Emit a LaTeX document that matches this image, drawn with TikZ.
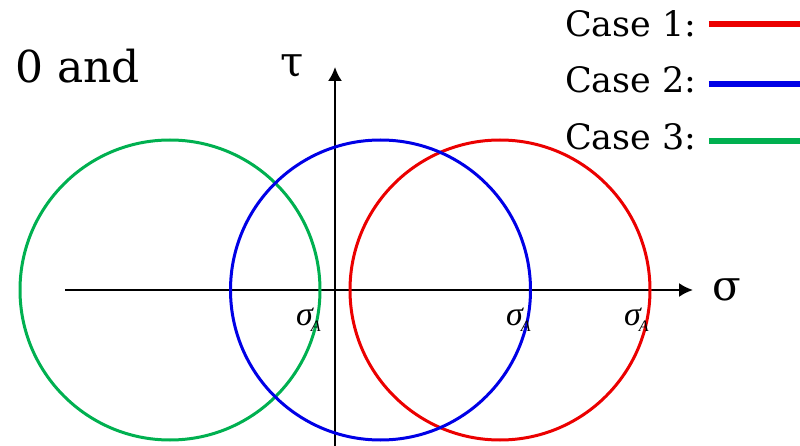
\documentclass[tikz,border=0pt]{standalone}
\usepackage{fontspec}
\setmainfont{DejaVu Serif}
\newfontfamily\timesf{Liberation Serif}
\usetikzlibrary{arrows.meta}
\definecolor{cred}{RGB}{235,0,0}
\definecolor{cblue}{RGB}{0,0,230}
\definecolor{cgreen}{RGB}{0,176,80}
\newcommand{\mysigA}{{\timesf\itshape\fontsize{34}{38}\selectfont σ\kern-2pt\raisebox{-6pt}{\fontsize{16}{18}\selectfont A}}}
\tikzset{
  axis/.style={line width=2pt, -{Latex[length=14pt,width=14pt]}},
  mohr/.style={line width=3pt},
  legline/.style={line width=6pt},
  lbl/.style={inner sep=0pt, anchor=base west},
  casetxt/.style={lbl, font=\fontsize{35}{40}\selectfont},
  sigA/.style={lbl},
}
\begin{document}
\begin{tikzpicture}[x=1pt,y=-1pt]
\useasboundingbox (0,0) rectangle (800,446);
% axes
\coordinate (hs) at (65,290);
\coordinate (he) at (693,290);
\coordinate (vs) at (335,446);
\coordinate (ve) at (335,67);
\draw[axis] (hs) -- (he);
\draw[axis] (vs) -- (ve);
% circles
\coordinate (cg) at (170,290);
\coordinate (cr) at (500,290);
\coordinate (cb) at (380.5,290);
\draw[mohr, cgreen] (cg) circle (150);
\draw[mohr, cred] (cr) circle (150);
\draw[mohr, cblue] (cb) circle (150);
% axis labels
\node[lbl, font=\fontsize{42}{46}\selectfont] (tau) at (280,77) {τ};
\node[lbl, font=\fontsize{42}{46}\selectfont] (sig) at (712,300) {σ};
% sigma_A labels
\node[sigA] (s1) at (296,325) {\mysigA};
\node[sigA] (s2) at (506,325) {\mysigA};
\node[sigA] (s3) at (624,325) {\mysigA};
% top-left text
\node[lbl, font=\fontsize{44}{48}\selectfont] (txt) at (15,83) {0 and};
% legend
\node[casetxt] (c1) at (565,37) {Case 1:};
\node[casetxt] (c2) at (565,93) {Case 2:};
\node[casetxt] (c3) at (565,150) {Case 3:};
\coordinate (l1e) at (800,24);
\coordinate (l2e) at (800,84);
\coordinate (l3e) at (800,141);
\draw[legline, cred] (c1.east |- l1e) ++(12,0) -- (l1e);
\draw[legline, cblue] (c2.east |- l2e) ++(12,0) -- (l2e);
\draw[legline, cgreen] (c3.east |- l3e) ++(12,0) -- (l3e);
\end{tikzpicture}
\end{document}
